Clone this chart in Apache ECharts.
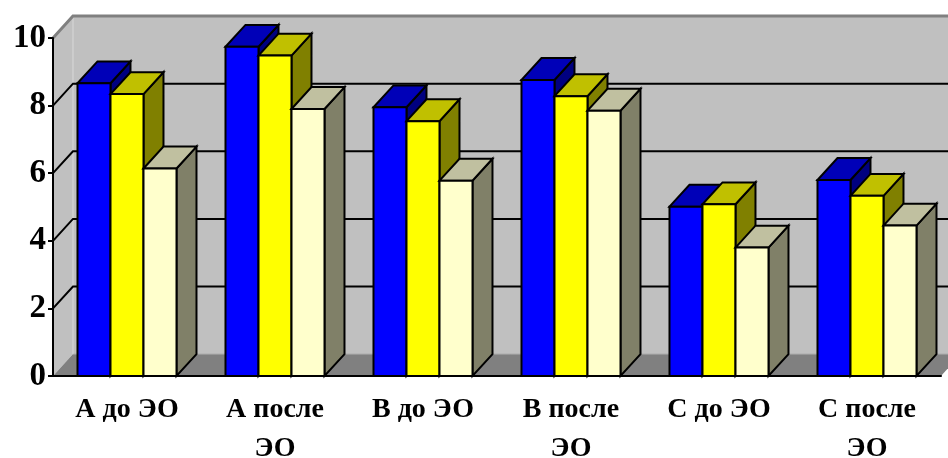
<!DOCTYPE html>
<html>
<head>
<meta charset="utf-8">
<script src="https://cdn.jsdelivr.net/npm/echarts@6/dist/echarts.min.js"></script>
<style>
  html, body { margin: 0; padding: 0; background: #fff; }
  #chart { width: 948px; height: 458px; }
</style>
</head>
<body>
<div id="chart"></div>
<script>
  // данные
  var categories = ['А до ЭО', 'А после ЭО', 'В до ЭО', 'В после ЭО', 'С до ЭО', 'С после ЭО'];
  var seriesBlue = [8.66, 9.74, 7.95, 8.76, 5.01, 5.80];
  var seriesYellow = [8.34, 9.48, 7.54, 8.28, 5.08, 5.33];
  var seriesCream = [6.14, 7.90, 5.78, 7.85, 3.80, 4.45];
  var yTicks = [0, 2, 4, 6, 8, 10];

  // доли ширины категории
  var BAR_W = 0.223;
  var DEPTH_X = 0.135;
  var DEPTH_Y = -0.148;

  var chart = echarts.init(document.getElementById('chart'));

  function toData(arr) {
    return arr.map(function (v, i) { return [i, v]; });
  }

  function barRenderer(slot, front, top, side) {
    return function (params, api) {
      var idx = api.value(0);
      var base = api.coord([idx, 0]);
      var tp = api.coord([idx, api.value(1)]);
      var band = api.size([1, 0])[0];
      var w = band * BAR_W, dx = band * DEPTH_X, dy = band * DEPTH_Y;
      var x0 = base[0] + (slot - 1.5) * w, x1 = x0 + w;
      var y0 = tp[1], yb = base[1];
      var st = { stroke: '#000', lineWidth: 2, lineJoin: 'miter' };
      return {
        type: 'group',
        children: [
          { type: 'polygon', shape: { points: [[x1, y0], [x1 + dx, y0 + dy], [x1 + dx, yb + dy], [x1, yb]] },
            style: Object.assign({ fill: side }, st) },
          { type: 'polygon', shape: { points: [[x0, y0], [x0 + dx, y0 + dy], [x1 + dx, y0 + dy], [x1, y0]] },
            style: Object.assign({ fill: top }, st) },
          { type: 'rect', shape: { x: x0, y: y0, width: w, height: yb - y0 },
            style: Object.assign({ fill: front }, st) }
        ]
      };
    };
  }

  function wallsRenderer(params, api) {
    var cs = params.coordSys;
    var band = api.size([1, 0])[0];
    var dx = band * DEPTH_X, dy = band * DEPTH_Y;
    var gx = cs.x, gy = cs.y, gw = cs.width, gh = cs.height;
    var kids = [
      { type: 'rect', shape: { x: gx + dx, y: gy + dy, width: gw, height: gh },
        style: { fill: '#c0c0c0' } },
      { type: 'polygon', shape: { points: [[gx, gy], [gx + dx, gy + dy], [gx + dx, gy + gh + dy], [gx, gy + gh]] },
        style: { fill: '#c0c0c0' } },
      { type: 'polygon', shape: { points: [[gx, gy + gh], [gx + dx, gy + gh + dy], [gx + gw + dx, gy + gh + dy], [gx + gw, gy + gh]] },
        style: { fill: '#808080' } },
      { type: 'line', shape: { x1: gx + dx, y1: gy + gh + dy, x2: gx + gw + dx, y2: gy + gh + dy },
        style: { stroke: '#a8a8a8', lineWidth: 1 } },
      { type: 'line', shape: { x1: gx + dx, y1: gy + dy, x2: gx + dx, y2: gy + gh + dy },
        style: { stroke: '#d8d8d8', lineWidth: 1 } },
      { type: 'polyline', shape: { points: [[gx, gy], [gx + dx, gy + dy], [gx + gw + dx, gy + dy]] },
        style: { stroke: '#808080', lineWidth: 3, fill: null } }
    ];
    yTicks.forEach(function (v) {
      if (v <= yTicks[0] || v >= yTicks[yTicks.length - 1]) return;
      var y = api.coord([0, v])[1];
      kids.push({ type: 'polyline', shape: { points: [[gx, y], [gx + dx, y + dy], [gx + gw + dx, y + dy]] },
        style: { stroke: '#000', lineWidth: 2, fill: null } });
    });
    return { type: 'group', children: kids };
  }

  var option = {
    backgroundColor: '#fff',
    animation: false,
    grid: { left: 53, right: 7, top: 38, bottom: 82, containLabel: false, outerBoundsMode: 'none' },
    xAxis: {
      type: 'category',
      data: categories,
      z: 10,
      axisLine: { lineStyle: { color: '#000', width: 2 } },
      axisTick: { length: 7, lineStyle: { color: '#000', width: 2 } },
      axisLabel: {
        margin: 14,
        color: '#000',
        fontFamily: 'Liberation Serif',
        fontWeight: 'bold',
        fontSize: 28,
        lineHeight: 39,
        interval: 0,
        hideOverlap: false,
        formatter: function (v) {
          return v.indexOf('после') >= 0 ? v.replace(' ЭО', '\nЭО') : v;
        }
      }
    },
    yAxis: {
      type: 'value',
      min: yTicks[0],
      max: yTicks[yTicks.length - 1],
      interval: 2,
      z: 10,
      axisLine: { show: true, lineStyle: { color: '#000', width: 2 } },
      axisTick: { show: true, length: 5, lineStyle: { color: '#000', width: 2 } },
      splitLine: { show: false },
      axisLabel: {
        margin: 7,
        color: '#000',
        fontFamily: 'Liberation Serif',
        fontWeight: 'bold',
        fontSize: 33
      }
    },
    series: [
      { type: 'custom', z: 1, data: [[0, 0]], renderItem: wallsRenderer, silent: true },
      { type: 'custom', z: 3, data: toData(seriesBlue), renderItem: barRenderer(0, '#0000ff', '#0000b8', '#000080') },
      { type: 'custom', z: 4, data: toData(seriesYellow), renderItem: barRenderer(1, '#ffff00', '#c0c000', '#808000') },
      { type: 'custom', z: 5, data: toData(seriesCream), renderItem: barRenderer(2, '#ffffcc', '#c0c0a0', '#808068') }
    ]
  };

  chart.setOption(option);
</script>
</body>
</html>
